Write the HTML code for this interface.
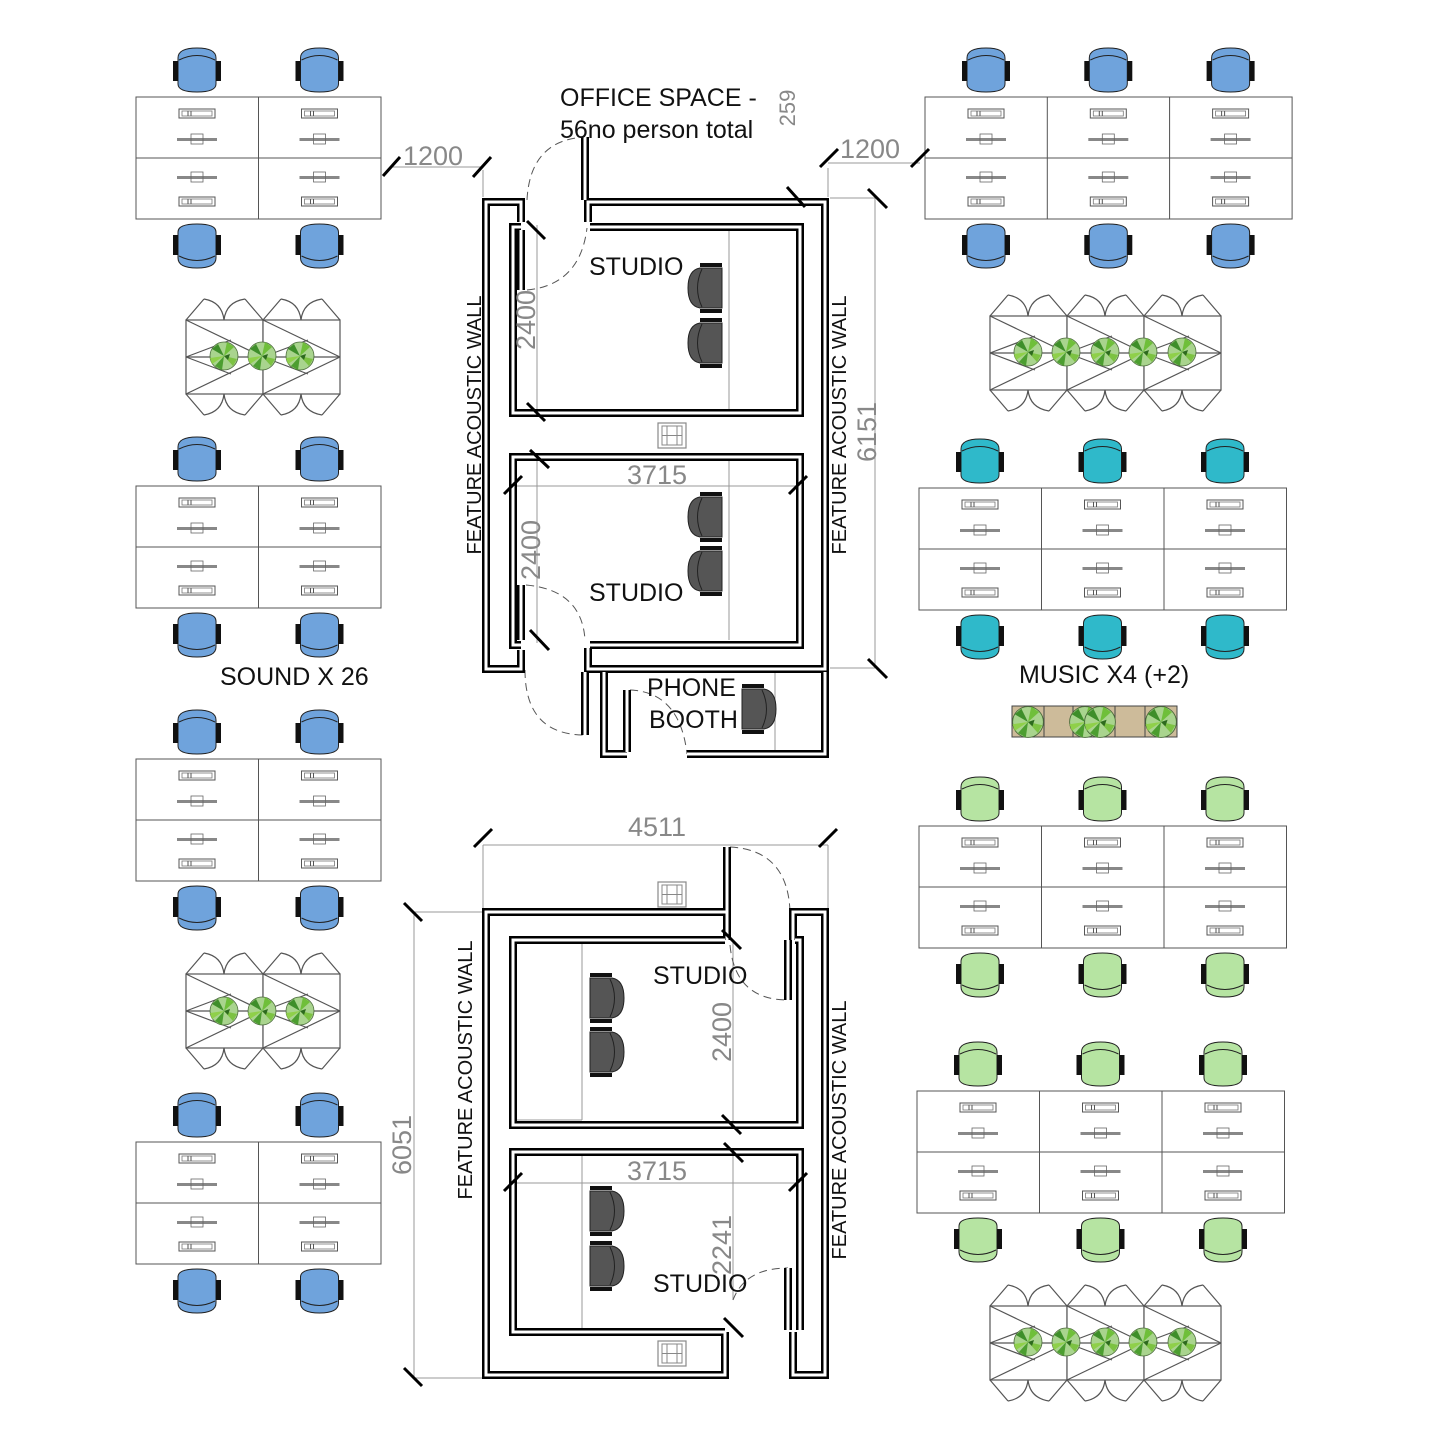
<!DOCTYPE html>
<html><head><meta charset="utf-8"><style>
html,body{margin:0;padding:0;background:#fff;}
svg{display:block;}
text{font-family:"Liberation Sans",sans-serif;}
</style></head><body>
<svg width="1440" height="1440" viewBox="0 0 1440 1440" xmlns="http://www.w3.org/2000/svg" xmlns:xlink="http://www.w3.org/1999/xlink">
<defs>
<g id="cht">
<path d="M-19,-13 Q-19,-23 0,-23 Q19,-23 19,-13 L19,13 Q19,21 0,21 Q-19,21 -19,13Z" stroke="#222" stroke-width="1"/>
<path d="M-18,-11 Q0,-20 18,-11" fill="none" stroke="#222" stroke-width="1"/>
<rect x="-24" y="-10" width="5" height="20" fill="#111"/><rect x="19" y="-10" width="5" height="20" fill="#111"/>
</g>
<g id="chb" transform="scale(1,-1)"><use xlink:href="#cht"/></g>
<g id="kb"><rect x="-18" y="0" width="36" height="9" fill="#fff" stroke="#555" stroke-width="1"/><rect x="-15" y="2" width="30" height="5" fill="none" stroke="#777" stroke-width="0.8"/><line x1="-9" y1="2" x2="-9" y2="7" stroke="#555"/><line x1="-6" y1="2" x2="-6" y2="7" stroke="#555"/></g>
<g id="mon"><rect x="-20" y="0" width="40" height="3" fill="#888"/><rect x="-6" y="-4" width="12" height="10" fill="none" stroke="#666" stroke-width="0.8"/></g>
<g id="col">
<rect x="0" y="0" width="122.5" height="122" fill="#fff" stroke="#555" stroke-width="1"/>
<line x1="0" y1="61" x2="122.5" y2="61" stroke="#555"/>
<use xlink:href="#kb" x="61" y="12"/><use xlink:href="#mon" x="61" y="41"/>
<use xlink:href="#mon" x="61" y="79"/><use xlink:href="#kb" x="61" y="100"/>
<use xlink:href="#cht" x="61" y="-26"/><use xlink:href="#chb" x="61" y="148"/>
</g>
<g id="plant">
<circle r="14" fill="#a9d48e" stroke="#4a6a3a" stroke-width="0.8"/>
<path d="M0,0 L-12,-7 L-6,-12Z" fill="#3e8e2a"/><path d="M0,0 L3,-14 L10,-9Z" fill="#6fbf3a"/>
<path d="M0,0 L13,3 L9,10Z" fill="#7cc242"/><path d="M0,0 L-2,14 L-9,10Z" fill="#4c9e30"/>
<path d="M0,0 L-14,2 L-12,8Z" fill="#8fd04a"/><path d="M0,0 L6,-2 L4,4Z" fill="#2d6a1e"/>
</g>
<g id="unit" fill="none" stroke="#555" stroke-width="1.2">
<rect x="0" y="24" width="77" height="74" fill="#fff"/>
<line x1="0" y1="61" x2="77" y2="61"/>
<line x1="0" y1="24" x2="77" y2="61"/><line x1="0" y1="98" x2="77" y2="61"/>
<line x1="0" y1="61" x2="45" y2="44"/><line x1="0" y1="61" x2="45" y2="78"/>
<path d="M0,24 L18,3 M59,3 L77,24 M18,3 Q36,6 38,24 Q40,6 59,3"/>
<path d="M0,98 L18,119 M59,119 L77,98 M18,119 Q36,116 38,98 Q40,116 59,119"/>
</g>
<g id="sock"><rect x="0" y="0" width="28" height="25" fill="#fff" stroke="#888" stroke-width="1.2"/><rect x="4" y="3" width="20" height="19" fill="none" stroke="#888"/><line x1="4" y1="12.5" x2="24" y2="12.5" stroke="#888"/><line x1="9" y1="3" x2="9" y2="22" stroke="#888"/><line x1="19" y1="3" x2="19" y2="22" stroke="#888"/></g>
<g id="dch">
<path d="M-12,-20 Q-24,-18 -24,0 Q-24,18 -12,20 L10,20 L10,-20Z" fill="#555" stroke="#222"/>
<path d="M-10,-19 Q-19,0 -10,19" fill="none" stroke="#222"/>
<rect x="-12" y="-25" width="22" height="4" fill="#111"/><rect x="-12" y="21" width="22" height="4" fill="#111"/>
</g>
<g id="walls">
<path d="M521,222 V202 H486 V669 H521 V650"/>
<path d="M588,222 V202 H825 V669 H588 V648"/>
<path d="M521,227 H513 V413 H800 V227 H590"/>
<path d="M590,645 H800 V457 H513 V645 H521"/>
<path d="M585,672 V735"/>
<path d="M604,672 V754 H627"/>
<path d="M627,690 V752"/>
<path d="M687,754 H825 V672"/>
<path d="M585,200 V137"/>
<path d="M521,230 V290"/>
<path d="M521,585 V640"/>
<path d="M727,940 V912 H486 V1375 H725 V1332"/>
<path d="M793,940 V912 H825 V1375 H793 V1332"/>
<path d="M725,940 H513 V1125 H800 V940 H795"/>
<path d="M800,1330 V1152 H513 V1332 H725"/>
<path d="M727,912 V847"/>
<path d="M788,940 V1000"/>
<path d="M788,1268 V1330"/>
</g>
</defs>

<!-- Left desk clusters -->
<g fill="#6fa3dc">
<use xlink:href="#col" x="136" y="97"/><use xlink:href="#col" x="258.5" y="97"/>
<use xlink:href="#col" x="136" y="486"/><use xlink:href="#col" x="258.5" y="486"/>
<use xlink:href="#col" x="136" y="759"/><use xlink:href="#col" x="258.5" y="759"/>
<use xlink:href="#col" x="136" y="1142"/><use xlink:href="#col" x="258.5" y="1142"/>
<use xlink:href="#col" x="925" y="97"/><use xlink:href="#col" x="1047.3" y="97"/><use xlink:href="#col" x="1169.6" y="97"/>
</g>
<g fill="#2fb9ca">
<use xlink:href="#col" x="919" y="488"/><use xlink:href="#col" x="1041.5" y="488"/><use xlink:href="#col" x="1164" y="488"/>
</g>
<g fill="#b6e4a2">
<use xlink:href="#col" x="919" y="826"/><use xlink:href="#col" x="1041.5" y="826"/><use xlink:href="#col" x="1164" y="826"/>
<use xlink:href="#col" x="917" y="1091"/><use xlink:href="#col" x="1039.5" y="1091"/><use xlink:href="#col" x="1162" y="1091"/>
</g>

<!-- booths -->
<g transform="translate(186,296)"><use xlink:href="#unit"/><use xlink:href="#unit" x="77"/><use xlink:href="#plant" x="38" y="60"/><use xlink:href="#plant" x="76" y="60"/><use xlink:href="#plant" x="114" y="60"/></g>
<g transform="translate(186,950)"><use xlink:href="#unit"/><use xlink:href="#unit" x="77"/><use xlink:href="#plant" x="38" y="61"/><use xlink:href="#plant" x="76" y="61"/><use xlink:href="#plant" x="114" y="61"/></g>
<g transform="translate(990,292)"><use xlink:href="#unit"/><use xlink:href="#unit" x="77"/><use xlink:href="#unit" x="154"/><use xlink:href="#plant" x="38" y="60"/><use xlink:href="#plant" x="76" y="60"/><use xlink:href="#plant" x="115" y="60"/><use xlink:href="#plant" x="153" y="60"/><use xlink:href="#plant" x="192" y="60"/></g>
<g transform="translate(990,1282)"><use xlink:href="#unit"/><use xlink:href="#unit" x="77"/><use xlink:href="#unit" x="154"/><use xlink:href="#plant" x="38" y="60"/><use xlink:href="#plant" x="76" y="60"/><use xlink:href="#plant" x="115" y="60"/><use xlink:href="#plant" x="153" y="60"/><use xlink:href="#plant" x="192" y="60"/></g>

<!-- planter -->
<rect x="1012" y="706" width="165" height="31" fill="#cdbb9a" stroke="#444" stroke-width="1"/>
<line x1="1044" y1="706" x2="1044" y2="737" stroke="#444"/><line x1="1073" y1="706" x2="1073" y2="737" stroke="#444"/><line x1="1115" y1="706" x2="1115" y2="737" stroke="#444"/><line x1="1145" y1="706" x2="1145" y2="737" stroke="#444"/>
<g transform="translate(1028,722) scale(1.1)"><use xlink:href="#plant"/></g>
<g transform="translate(1085,722) scale(1.1)"><use xlink:href="#plant"/></g>
<g transform="translate(1100,722) scale(1.1)"><use xlink:href="#plant"/></g>
<g transform="translate(1161,722) scale(1.1)"><use xlink:href="#plant"/></g>

<!-- dimension lines (thin) -->
<g stroke="#999" stroke-width="1" fill="none">
<line x1="390" y1="167" x2="483" y2="167"/><line x1="828" y1="163" x2="920" y2="163"/>
<line x1="483" y1="170" x2="483" y2="197"/><line x1="828" y1="168" x2="828" y2="197"/>
<line x1="537" y1="225" x2="537" y2="413"/><line x1="729" y1="229" x2="729" y2="411"/>
<line x1="513" y1="486" x2="797" y2="486"/>
<line x1="537" y1="457" x2="537" y2="643"/><line x1="729" y1="459" x2="729" y2="640"/>
<line x1="875" y1="198" x2="875" y2="668"/><line x1="830" y1="198" x2="875" y2="198"/><line x1="830" y1="668" x2="875" y2="668"/>
<line x1="775" y1="672" x2="775" y2="750"/>
<line x1="483" y1="845" x2="828" y2="845"/><line x1="483" y1="845" x2="483" y2="910"/><line x1="828" y1="845" x2="828" y2="910"/>
<line x1="414" y1="912" x2="414" y2="1378"/><line x1="414" y1="912" x2="483" y2="912"/><line x1="414" y1="1378" x2="483" y2="1378"/>
<line x1="582" y1="942" x2="582" y2="1120"/><line x1="515" y1="1120" x2="582" y2="1120"/>
<line x1="733" y1="940" x2="733" y2="1125"/>
<line x1="513" y1="1183" x2="797" y2="1183"/>
<line x1="582" y1="1154" x2="582" y2="1330"/>
<line x1="733" y1="1152" x2="733" y2="1300"/>
</g>
<!-- dashed door arcs -->
<g stroke="#555" stroke-width="1" fill="none" stroke-dasharray="8,5">
<path d="M527,200 Q530,140 585,137"/>
<path d="M527,290 Q580,285 587,228"/>
<path d="M526,585 Q582,590 585,640"/>
<path d="M525,670 Q525,735 585,735"/>
<path d="M630,690 Q680,692 687,754"/>
<path d="M730,847 Q788,850 790,912"/>
<path d="M730,945 Q735,1000 788,1000"/>
<path d="M733,1300 Q745,1268 788,1268"/>
</g>

<!-- walls double line -->
<use xlink:href="#walls" fill="none" stroke="#000" stroke-width="8" stroke-linejoin="miter"/>
<use xlink:href="#walls" fill="none" stroke="#fff" stroke-width="3" stroke-linejoin="miter"/>

<!-- ticks -->
<g stroke="#000" stroke-width="3">
<line x1="383" y1="176" x2="400" y2="157"/><line x1="473" y1="177" x2="491" y2="157"/>
<line x1="820" y1="167" x2="838" y2="149"/><line x1="911" y1="167" x2="929" y2="149"/>
<line x1="787" y1="187" x2="805" y2="207"/><line x1="868" y1="189" x2="887" y2="208"/><line x1="868" y1="659" x2="887" y2="678"/>
<line x1="527" y1="221" x2="545" y2="239"/><line x1="527" y1="403" x2="545" y2="421"/>
<line x1="530" y1="450" x2="549" y2="468"/><line x1="504" y1="494" x2="522" y2="476"/><line x1="789" y1="494" x2="807" y2="476"/>
<line x1="530" y1="630" x2="549" y2="650"/>
<line x1="474" y1="847" x2="492" y2="829"/><line x1="819" y1="847" x2="837" y2="829"/>
<line x1="404" y1="903" x2="422" y2="921"/><line x1="404" y1="1368" x2="422" y2="1386"/>
<line x1="722" y1="930" x2="741" y2="949"/><line x1="722" y1="1115" x2="741" y2="1134"/>
<line x1="724" y1="1143" x2="743" y2="1162"/><line x1="504" y1="1191" x2="522" y2="1173"/><line x1="789" y1="1191" x2="807" y2="1173"/>
<line x1="724" y1="1318" x2="743" y2="1337"/>
</g>

<!-- sockets -->
<use xlink:href="#sock" x="658" y="423"/><use xlink:href="#sock" x="658" y="882"/><use xlink:href="#sock" x="658" y="1341"/>

<!-- studio chairs -->
<use xlink:href="#dch" x="712" y="288"/><use xlink:href="#dch" x="712" y="343"/>
<use xlink:href="#dch" x="712" y="517"/><use xlink:href="#dch" x="712" y="571"/>
<g transform="translate(600,998) scale(-1,1)"><use xlink:href="#dch"/></g>
<g transform="translate(600,1052) scale(-1,1)"><use xlink:href="#dch"/></g>
<g transform="translate(600,1211) scale(-1,1)"><use xlink:href="#dch"/></g>
<g transform="translate(600,1266) scale(-1,1)"><use xlink:href="#dch"/></g>
<g transform="translate(752,709) scale(-1,1)"><use xlink:href="#dch"/></g>

<!-- text -->
<g fill="#111" font-size="25">
<text x="560" y="106">OFFICE SPACE -</text>
<text x="560" y="138">56no person total</text>
<text x="589" y="275">STUDIO</text>
<text x="589" y="601">STUDIO</text>
<text x="647" y="696">PHONE</text>
<text x="649" y="728">BOOTH</text>
<text x="653" y="984">STUDIO</text>
<text x="653" y="1292">STUDIO</text>
<text x="220" y="685">SOUND X 26</text>
<text x="1019" y="683">MUSIC X4 (+2)</text>
</g>
<g fill="#111" font-size="20">
<text transform="translate(481,425) rotate(-90)" text-anchor="middle">FEATURE ACOUSTIC WALL</text>
<text transform="translate(846,425) rotate(-90)" text-anchor="middle">FEATURE ACOUSTIC WALL</text>
<text transform="translate(472,1070) rotate(-90)" text-anchor="middle">FEATURE ACOUSTIC WALL</text>
<text transform="translate(846,1130) rotate(-90)" text-anchor="middle">FEATURE ACOUSTIC WALL</text>
</g>
<g fill="#888" font-size="27">
<text x="403" y="165">1200</text>
<text x="840" y="158">1200</text>
<text x="657" y="484" text-anchor="middle">3715</text>
<text x="657" y="1180" text-anchor="middle">3715</text>
<text x="657" y="836" text-anchor="middle">4511</text>
<text transform="translate(535,320) rotate(-90)" text-anchor="middle">2400</text>
<text transform="translate(540,550) rotate(-90)" text-anchor="middle">2400</text>
<text transform="translate(876,432) rotate(-90)" text-anchor="middle">6151</text>
<text transform="translate(411,1145) rotate(-90)" text-anchor="middle">6051</text>
<text transform="translate(731,1032) rotate(-90)" text-anchor="middle">2400</text>
<text transform="translate(731,1245) rotate(-90)" text-anchor="middle">2241</text>
<text transform="translate(795,108) rotate(-90)" text-anchor="middle" font-size="22">259</text>
</g>
</svg>
</body></html>
